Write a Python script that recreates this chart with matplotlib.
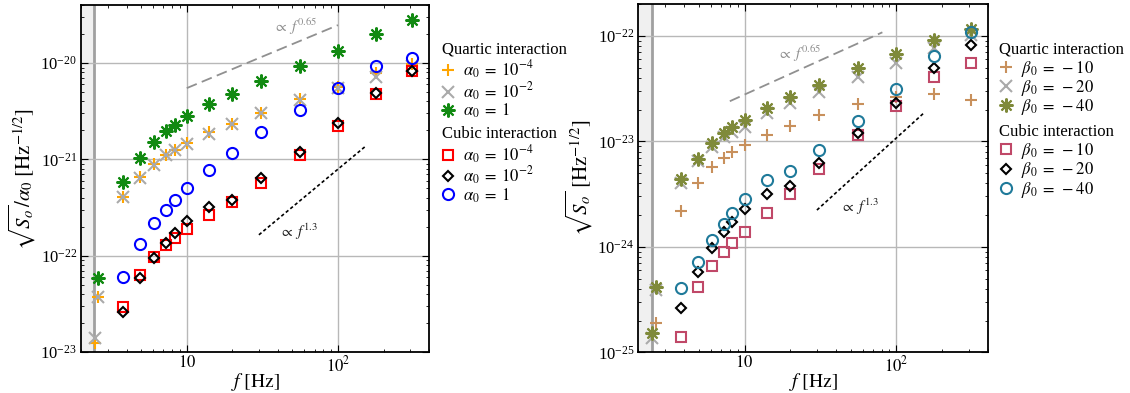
import matplotlib
matplotlib.use('Agg')
import matplotlib.pyplot as plt
from matplotlib.lines import Line2D
import numpy as np

plt.rcParams['font.family'] = ['Liberation Serif', 'DejaVu Serif']
plt.rcParams['mathtext.fontset'] = 'stix'

# frequencies [Hz]
f_quartic = [2.46, 2.6, 3.8, 4.9, 6.1, 7.3, 8.3, 10, 14, 20, 31, 56, 100, 178, 310]
f_cubic = f_quartic[2:]

# left panel: sqrt(S_o)/alpha_0
q_a4 = [1.25e-23, 3.76e-23, 4.12e-22, 6.53e-22, 8.97e-22, 1.12e-21, 1.26e-21, 1.47e-21,
        1.94e-21, 2.33e-21, 3.05e-21, 4.24e-21, 5.69e-21, 7.82e-21, 9.77e-21]
q_a2 = [1.41e-23, 3.76e-23, 4.12e-22, 6.38e-22, 8.83e-22, 1.10e-21, 1.26e-21, 1.43e-21,
        1.84e-21, 2.33e-21, 3.01e-21, 4.14e-21, 5.51e-21, 7.21e-21, 9.38e-21]
q_a0 = [5.87e-23, 5.89e-22, 1.04e-21, 1.52e-21, 1.96e-21, 2.30e-21, 2.82e-21,
        3.76e-21, 4.81e-21, 6.46e-21, 9.31e-21, 1.34e-20, 2.00e-20, 2.83e-20]
c_a4 = [2.94e-23, 6.25e-23, 9.68e-23, 1.30e-22, 1.54e-22, 1.91e-22, 2.68e-22,
        3.60e-22, 5.66e-22, 1.12e-21, 2.24e-21, 4.78e-21, 8.34e-21]
c_a2 = [2.61e-23, 5.87e-23, 9.53e-23, 1.36e-22, 1.73e-22, 2.29e-22, 3.19e-22,
        3.80e-22, 6.43e-22, 1.19e-21, 2.37e-21, 4.85e-21, 8.20e-21]
c_a0 = [6.01e-23, 1.33e-22, 2.18e-22, 3.02e-22, 3.80e-22, 5.07e-22, 7.85e-22,
        1.17e-21, 1.91e-21, 3.26e-21, 5.46e-21, 9.38e-21, 1.12e-20]

# right panel: sqrt(S_o)
q_b10 = [1.88e-25, 2.18e-24, 4.06e-24, 5.74e-24, 6.98e-24, 7.85e-24, 9.20e-24,
         1.15e-23, 1.40e-23, 1.77e-23, 2.25e-23, 2.64e-23, 2.84e-23, 2.49e-23]
q_b20 = [1.36e-25, 3.90e-25, 4.06e-24, 6.50e-24, 8.89e-24, 1.09e-23, 1.23e-23, 1.37e-23,
         1.84e-23, 2.29e-23, 2.95e-23, 4.09e-23, 5.47e-23, 7.59e-23, 1.01e-22]
q_b40 = [1.51e-25, 4.19e-25, 4.39e-24, 6.79e-24, 9.55e-24, 1.19e-23, 1.36e-23, 1.59e-23,
         2.05e-23, 2.61e-23, 3.41e-23, 4.91e-23, 6.70e-23, 9.23e-23, 1.16e-22]
c_b10 = [1.41e-25, 4.13e-25, 6.58e-25, 8.87e-25, 1.08e-24, 1.39e-24, 2.10e-24,
         3.14e-24, 5.46e-24, 1.15e-23, 2.16e-23, 4.03e-23, 5.55e-23]
c_b20 = [2.65e-25, 5.81e-25, 9.66e-25, 1.39e-24, 1.73e-24, 2.28e-24, 3.16e-24,
         3.79e-24, 6.27e-24, 1.19e-23, 2.33e-23, 4.91e-23, 8.17e-23]
c_b40 = [4.05e-25, 7.23e-25, 1.16e-24, 1.64e-24, 2.07e-24, 2.82e-24, 4.30e-24,
         5.26e-24, 8.26e-24, 1.56e-23, 3.10e-23, 6.41e-23, 1.08e-22]

ASTER = (8, 2, 0)


def style_axes(ax, ylim):
  ax.set_xscale('log')
  ax.set_yscale('log')
  ax.set_xlim(2, 400)
  ax.set_ylim(*ylim)
  ax.axvspan(2, 2.45, color='#f0f0f0', zorder=0)
  ax.axvline(2.45, color='#a0a0a0', lw=2, zorder=1)
  ax.grid(True, which='major', color='#b8b8b8', lw=1, zorder=0)
  ax.tick_params(which='both', direction='in', top=True, right=True, labelsize=12, pad=3)
  ax.tick_params(axis='x', pad=2)
  ax.tick_params(which='major', length=5)
  ax.tick_params(which='minor', length=2.5)
  ax.set_xticks([10, 100])
  ax.set_xticklabels(['$10$', '$10^{2}$'])
  for s in ax.spines.values():
    s.set_linewidth(1.3)
  ax.set_xlabel(r'$f\ [\mathrm{Hz}]$', fontsize=14, labelpad=-3)


def add_legends(ax, fig, quartic, cubic, x, y1, y2):
  opts = dict(loc='upper left', bbox_transform=fig.transFigure, frameon=False,
              fontsize=12, title_fontsize=12, alignment='left', handlelength=0.8,
              handletextpad=0.5, labelspacing=-0.05, borderpad=0, borderaxespad=0)
  hq = [Line2D([], [], ls='none', **kw) for kw, lab in quartic]
  hc = [Line2D([], [], ls='none', **kw) for kw, lab in cubic]
  l1 = ax.legend(hq, [lab for kw, lab in quartic], title='Quartic interaction',
                 bbox_to_anchor=(x, y1), **opts)
  l1._legend_box.sep = 1
  ax.add_artist(l1)
  l2 = ax.legend(hc, [lab for kw, lab in cubic], title='Cubic interaction',
                 bbox_to_anchor=(x, y2), **opts)
  l2._legend_box.sep = 1


fig = plt.figure(figsize=(11.3, 3.93), dpi=100)
ax1 = fig.add_axes([0.0717, 0.104, 0.308, 0.883])
ax2 = fig.add_axes([0.565, 0.1036, 0.309, 0.886])

# ---- left panel
style_axes(ax1, (1e-23, 4e-20))
k_or = dict(marker='+', color='#ffa500', ms=9, mew=1.5)
k_gy = dict(marker='x', color='#aaaaaa', ms=8, mew=1.5)
k_gr = dict(marker=ASTER, color='#128a12', ms=10, mew=1.5)
k_rs = dict(marker='s', mfc='none', mec='red', color='red', ms=7.5, mew=1.5)
k_bd = dict(marker='D', mfc='none', mec='black', color='black', ms=5.5, mew=1.5)
k_bc = dict(marker='o', mfc='none', mec='blue', color='blue', ms=8, mew=1.5)
ax1.plot(f_quartic, q_a4, ls='none', zorder=3, **k_or)
ax1.plot(f_quartic, q_a2, ls='none', zorder=3, **k_gy)
ax1.plot(f_quartic[1:], q_a0, ls='none', zorder=3, **k_gr)
ax1.plot(f_cubic, c_a4, ls='none', zorder=3, **k_rs)
ax1.plot(f_cubic, c_a2, ls='none', zorder=3, **k_bd)
ax1.plot(f_cubic, c_a0, ls='none', zorder=3, **k_bc)

ax1.plot([10, 100], [5.5e-21, 2.48e-20], ls=(0, (6, 3)), color='#909090', lw=1.3)
ax1.text(37, 2.4e-20, r'$\propto\ f^{0.65}$', color='#909090', fontsize=11, va='center')
ax1.plot([30, 152], [1.65e-22, 1.37e-21], ls=(0, (2, 1.5)), color='black', lw=1.2)
ax1.text(41, 1.76e-22, r'$\propto\ f^{1.3}$', color='#222222', fontsize=11, va='center')
ax1.set_ylabel(r'$\sqrt{S_o}/\alpha_0\ [\mathrm{Hz}^{-1/2}]$', fontsize=15, labelpad=2)

add_legends(ax1, fig,
            [(k_or, r'$\alpha_0\;=\;10^{-4}$'), (k_gy, r'$\alpha_0\;=\;10^{-2}$'),
             (k_gr, r'$\alpha_0\;=\;1$')],
            [(k_rs, r'$\alpha_0\;=\;10^{-4}$'), (k_bd, r'$\alpha_0\;=\;10^{-2}$'),
             (k_bc, r'$\alpha_0\;=\;1$')],
            0.391, 0.895, 0.680)

# ---- right panel
style_axes(ax2, (1e-25, 2e-22))
k_tn = dict(marker='+', color='#c8905c', ms=9, mew=1.5)
k_gy2 = dict(marker='x', color='#aaaaaa', ms=8, mew=1.5)
k_ol = dict(marker=ASTER, color='#7f8a3a', ms=10, mew=1.5)
k_cs = dict(marker='s', mfc='none', mec='#c04868', color='#c04868', ms=7.5, mew=1.5)
k_bd2 = dict(marker='D', mfc='none', mec='black', color='black', ms=5.5, mew=1.5)
k_tc = dict(marker='o', mfc='none', mec='#1f7a9a', color='#1f7a9a', ms=8, mew=1.5)
ax2.plot(f_quartic[1:], q_b10, ls='none', zorder=3, **k_tn)
ax2.plot(f_quartic, q_b20, ls='none', zorder=3, **k_gy2)
ax2.plot(f_quartic, q_b40, ls='none', zorder=3, **k_ol)
ax2.plot(f_cubic, c_b10, ls='none', zorder=3, **k_cs)
ax2.plot(f_cubic, c_b20, ls='none', zorder=3, **k_bd2)
ax2.plot(f_cubic, c_b40, ls='none', zorder=3, **k_tc)

ax2.plot([8, 81], [2.4e-23, 1.08e-22], ls=(0, (6, 3)), color='#909090', lw=1.3)
ax2.text(16.4, 6.8e-23, r'$\propto\ f^{0.65}$', color='#909090', fontsize=11, va='center')
ax2.plot([30, 151], [2.23e-24, 1.84e-23], ls=(0, (2, 1.5)), color='black', lw=1.2)
ax2.text(42.7, 2.4e-24, r'$\propto\ f^{1.3}$', color='#222222', fontsize=11, va='center')
ax2.set_ylabel(r'$\sqrt{S_o}\ [\mathrm{Hz}^{-1/2}]$', fontsize=15, labelpad=2)

add_legends(ax2, fig,
            [(k_tn, r'$\beta_0\;=\;-10$'), (k_gy2, r'$\beta_0\;=\;-20$'),
             (k_ol, r'$\beta_0\;=\;-40$')],
            [(k_cs, r'$\beta_0\;=\;-10$'), (k_bd2, r'$\beta_0\;=\;-20$'),
             (k_tc, r'$\beta_0\;=\;-40$')],
            0.884, 0.895, 0.685)

fig.savefig('out.png', dpi=100)
